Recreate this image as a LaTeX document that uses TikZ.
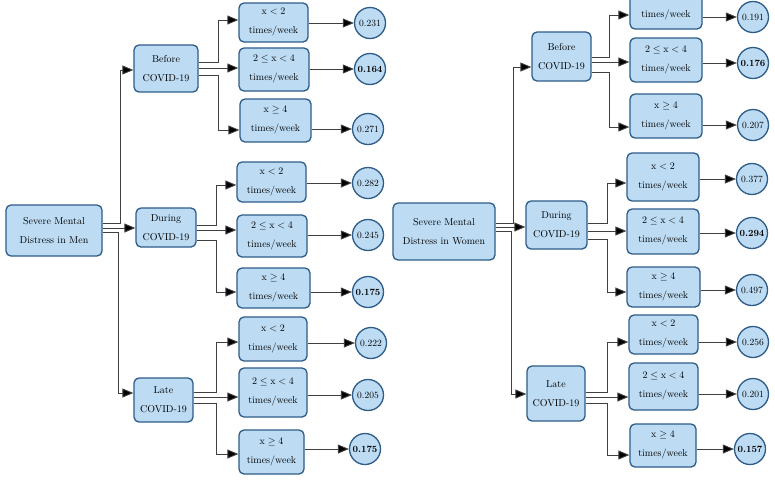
\documentclass[tikz,border=0pt]{standalone}
\usetikzlibrary{arrows.meta}
\definecolor{boxfill}{HTML}{BDDCF4}
\definecolor{boxline}{HTML}{2D5C88}
\definecolor{connline}{HTML}{404040}
\tikzset{
  box/.style={draw=boxline, fill=boxfill, line width=1.3pt, rounded corners=5pt,
    align=center, inner sep=1pt, font=\fontsize{10}{19}\selectfont},
  circ/.style={draw=boxline, fill=boxfill, line width=1.3pt, circle,
    minimum size=31pt, inner sep=0pt, font=\fontsize{9.5}{11}\selectfont},
  conn/.style={draw=connline, line width=0.9pt, -{Triangle[length=11pt,width=9pt,fill=black]}},
  lbl/.style={inner sep=0pt, font=\fontsize{10}{11}\selectfont}
}
\newcommand\bx[6]{\node[box,minimum width={(#4-#2)*1pt},minimum height={(#5-#3)*1pt}] (#1) at ({(#2+#4)/2},{(#3+#5)/2}) {#6};}
\newcommand\txlo{$\mathrm{x}<2$\\times/week}
\newcommand\txmi{$2\leq\mathrm{x}<4$\\times/week}
\newcommand\txhi{$\mathrm{x}\geq4$\\times/week}
\begin{document}
\begin{tikzpicture}[x=1pt,y=-1pt]
\fill[white] (0,0) rectangle (775,480);
\useasboundingbox (0,0) rectangle (775,480);

% ===== Men =====
\bx{mr}{6}{205}{102}{256}{Severe Mental\\Distress in Men}
\bx{mb}{134}{45}{198}{92}{Before\\COVID-19}
\bx{md}{136}{208}{196}{247}{During\\COVID-19}
\bx{ml}{134}{378}{193}{422}{Late\\COVID-19}

\bx{mb1}{239}{3}{308}{42}{\txlo}
\bx{mb2}{239}{48}{309}{91}{\txmi}
\bx{mb3}{240}{99}{311}{142}{\txhi}
\bx{md1}{237}{162}{306}{202}{\txlo}
\bx{md2}{237}{215}{307}{257}{\txmi}
\bx{md3}{237}{268}{310}{308}{\txhi}
\bx{ml1}{239}{317}{307}{361}{\txlo}
\bx{ml2}{239}{368}{307}{417}{\txmi}
\bx{ml3}{239}{430}{304}{474}{\txhi}

\node[circ] (cmb1) at (370,23) {0.231};
\node[circ] (cmb2) at (370,69) {\textbf{0.164}};
\node[circ] (cmb3) at (368,129) {0.271};
\node[circ] (cmd1) at (368,183) {0.282};
\node[circ] (cmd2) at (368,235) {0.245};
\node[circ] (cmd3) at (368,292) {\textbf{0.175}};
\node[circ] (cml1) at (371,343) {0.222};
\node[circ] (cml2) at (368,395) {0.205};
\node[circ] (cml3) at (365,449) {\textbf{0.175}};

\draw[conn] (mr.east |- 0,223) -- (120,223) |- (mb.west |- 0,70);
\draw[conn] (mr.east |- 0,228) -- (md.west |- 0,228);
\draw[conn] (mr.east |- 0,232) -- (118,232) |- (ml.west |- 0,393);

\draw[conn] (mb.east |- 0,62) -- (218,62) |- (mb1.west |- 0,20);
\draw[conn] (mb.east |- 0,68) -- (mb2.west |- 0,68);
\draw[conn] (mb.east |- 0,75) -- (218,75) |- (mb3.west |- 0,130);
\draw[conn] (md.east |- 0,225) -- (216,225) |- (md1.west |- 0,185);
\draw[conn] (md.east |- 0,230) -- (md2.west |- 0,230);
\draw[conn] (md.east |- 0,240) -- (216,240) |- (md3.west |- 0,292);
\draw[conn] (ml.east |- 0,392) -- (216,392) |- (ml1.west |- 0,342);
\draw[conn] (ml.east |- 0,397) -- (ml2.west |- 0,397);
\draw[conn] (ml.east |- 0,403) -- (216,403) |- (ml3.west |- 0,454);

\foreach \b in {mb1,mb2,mb3,md1,md2,md3,ml1,ml2,ml3}
  \draw[conn] (\b.east |- c\b.west) -- (c\b.west);

% ===== Women =====
\bx{wr}{393}{203}{495}{260}{Severe Mental\\Distress in Women}
\bx{wb}{532}{32}{591}{81}{Before\\COVID-19}
\bx{wd}{526}{201}{587}{249}{During\\COVID-19}
\bx{wl}{527}{366}{585}{421}{Late\\COVID-19}

\bx{wb1}{630}{-14}{702}{29}{}
\node[lbl] (wb1t) at (666,15) {times/week};
\bx{wb2}{630}{38}{702}{82}{\txmi}
\bx{wb3}{630}{94}{702}{138}{\txhi}
\bx{wd1}{627}{153}{699}{201}{\txlo}
\bx{wd2}{627}{209}{699}{254}{\txmi}
\bx{wd3}{627}{267}{700}{307}{\txhi}
\bx{wl1}{629}{315}{698}{354}{\txlo}
\bx{wl2}{629}{363}{698}{410}{\txmi}
\bx{wl3}{630}{424}{696}{467}{\txhi}

\node[circ] (cwb1) at (753,17) {0.191};
\node[circ] (cwb2) at (753,63) {\textbf{0.176}};
\node[circ] (cwb3) at (753,125) {0.207};
\node[circ] (cwd1) at (752,179) {0.377};
\node[circ] (cwd2) at (752,233) {\textbf{0.294}};
\node[circ] (cwd3) at (752,290) {0.497};
\node[circ] (cwl1) at (753,342) {0.256};
\node[circ] (cwl2) at (753,394) {0.201};
\node[circ] (cwl3) at (750,449) {\textbf{0.157}};

\draw[conn] (wr.east |- 0,223) -- (513,223) |- (wb.west |- 0,67);
\draw[conn] (wr.east |- 0,227) -- (wd.west |- 0,227);
\draw[conn] (wr.east |- 0,231) -- (511,231) |- (wl.west |- 0,394);

\draw[conn] (wb.east |- 0,57) -- (609,57) |- (wb1.west |- 0,15);
\draw[conn] (wb.east |- 0,62) -- (wb2.west |- 0,62);
\draw[conn] (wb.east |- 0,72) -- (609,72) |- (wb3.west |- 0,127);
\draw[conn] (wd.east |- 0,223) -- (607,223) |- (wd1.west |- 0,183);
\draw[conn] (wd.east |- 0,231) -- (wd2.west |- 0,231);
\draw[conn] (wd.east |- 0,239) -- (607,239) |- (wd3.west |- 0,292);
\draw[conn] (wl.east |- 0,392) -- (607,392) |- (wl1.west |- 0,342);
\draw[conn] (wl.east |- 0,397) -- (wl2.west |- 0,397);
\draw[conn] (wl.east |- 0,403) -- (607,403) |- (wl3.west |- 0,455);

\foreach \b in {wb1,wb2,wb3,wd1,wd2,wd3,wl1,wl2,wl3}
  \draw[conn] (\b.east |- c\b.west) -- (c\b.west);
\end{tikzpicture}
\end{document}
